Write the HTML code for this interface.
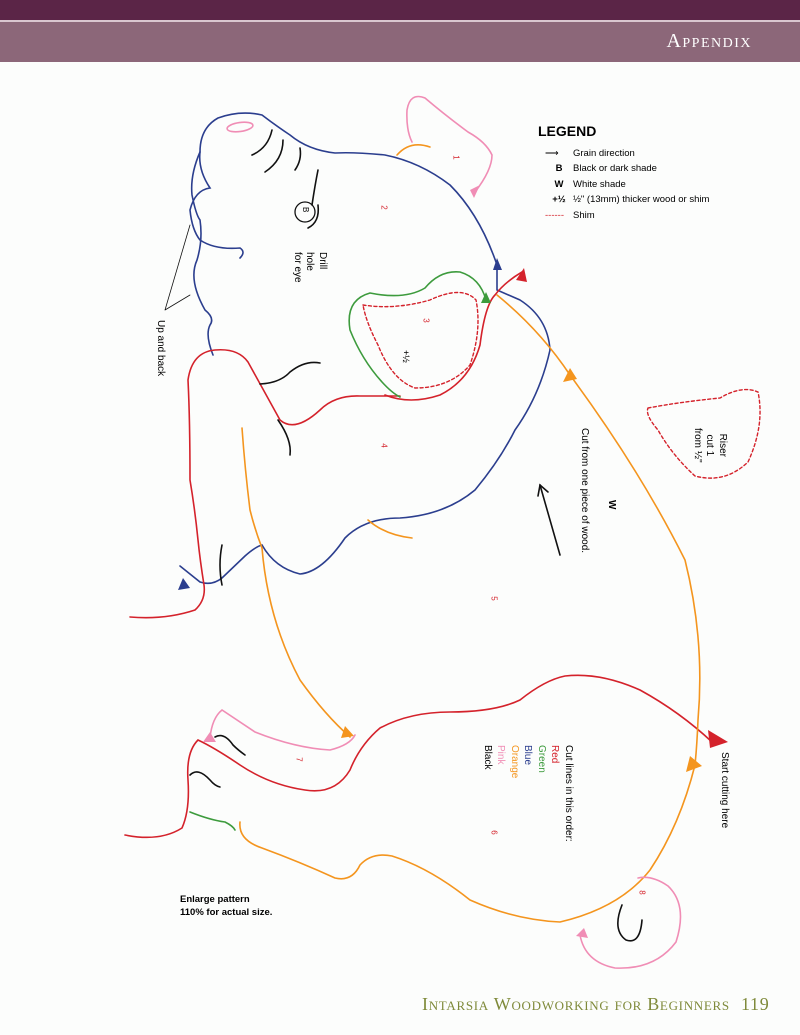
<!DOCTYPE html>
<html><head><meta charset="utf-8"><style>
body{margin:0;background:#fcfdfc;}
#w{position:relative;width:800px;height:1035px;overflow:hidden;background:#fcfdfc;font-family:"Liberation Sans",sans-serif;}
.t{position:absolute;white-space:nowrap;}
</style></head><body><div id="w">
<div style="position:absolute;left:0;top:0;width:800px;height:20px;background:#5b2547"></div>
<div style="position:absolute;left:0;top:20px;width:800px;height:2px;background:#d9c6cf"></div>
<div style="position:absolute;left:0;top:22px;width:800px;height:40px;background:#8c6779"></div>
<div class="t" style="right:48px;top:30px;color:#fff;font-family:'Liberation Serif',serif;font-size:20px;font-variant:small-caps;letter-spacing:1.5px">Appendix</div>
<div class="t" style="left:422px;top:994px;color:#7f8a3a;font-family:'Liberation Serif',serif;font-size:18px;font-variant:small-caps;letter-spacing:0.7px">Intarsia Woodworking for Beginners <span style="margin-left:6px">119</span></div>

<svg width="800" height="1035" style="position:absolute;left:0;top:0" fill="none" stroke-width="1.6" stroke-linecap="round">
<g stroke="#2b3e8e">
<path d="M180,566 L200,582 Q212,586 222,578 L245,556 Q255,547 262,545 Q275,568 300,574 Q322,572 345,538 Q365,518 400,518 Q445,515 475,490 Q500,460 515,430 Q540,395 550,350 Q548,318 520,300 L497,290 L497,265 Q480,215 450,185 Q420,162 385,155 Q355,152 335,153 Q308,150 290,135 Q275,125 262,115 Q240,110 218,118 Q200,128 200,152 Q198,170 210,188 Q195,190 190,210 Q192,230 200,240 Q215,250 240,248 Q246,252 240,258"/>
<path d="M200,152 Q190,175 192,195 Q196,215 200,220 Q203,240 197,260 Q188,280 205,310 Q215,318 210,325 Q205,335 213,355"/>
</g>
<polygon points="497,258 493,270 502,270" fill="#2b3e8e"/>
<polygon points="183,578 178,590 190,588" fill="#2b3e8e"/>
<g stroke="#d4222b">
<path d="M130,617 Q165,620 195,610 Q206,600 204,585 Q200,560 198,540 Q195,510 190,480 Q190,420 188,380 Q192,352 215,350 Q238,348 248,362 L280,420 Q295,433 320,410 Q335,395 360,396 L400,396"/>
<path d="M385,395 Q410,405 440,395 Q470,380 480,345 Q485,305 495,295 Q505,282 522,272"/>
<path d="M125,835 Q160,842 182,828 Q190,810 188,780 Q186,752 198,740 Q215,748 240,765 Q270,785 305,790 Q335,795 350,770 Q360,745 380,728 Q410,712 450,712 Q495,712 520,700 Q545,680 565,676 Q600,672 640,690 Q680,712 712,742"/>
<path d="M363,305 Q395,310 430,300 Q462,285 476,300 Q482,330 470,365 Q450,388 415,388 Q392,380 378,345 Q366,322 363,305 Z" stroke-dasharray="3,2.5" stroke-width="1.4"/>
<path d="M648,408 Q680,402 720,398 Q742,385 758,392 Q765,425 748,462 Q725,484 695,476 Q672,455 658,430 Q645,415 648,408 Z" stroke-dasharray="3,2.5" stroke-width="1.4"/>
</g>
<polygon points="524,268 516,280 527,282" fill="#d4222b"/>
<polygon points="708,730 728,742 710,748" fill="#d4222b"/>
<g stroke="#3d9b3d">
<path d="M486,300 Q480,278 460,272 Q440,270 425,288 Q405,300 370,293 Q345,300 350,330 Q362,360 382,382 Q392,393 400,397"/>
<path d="M190,812 Q210,820 225,822 Q233,826 235,830"/>
</g>
<polygon points="486,292 481,303 491,303" fill="#3d9b3d"/>
<g stroke="#f4951e">
<path d="M497,295 Q540,330 570,375 Q640,470 685,560 Q705,640 698,720 Q697,745 695,765"/>
<path d="M240,822 Q238,840 262,848 Q300,862 335,878 Q352,882 360,865 Q372,852 392,856 Q430,868 470,900 Q515,920 560,922 Q620,908 650,870 Q680,825 695,765"/>
<path d="M262,548 Q268,620 300,680 Q325,715 350,737"/>
<path d="M242,428 Q245,470 250,510 Q255,530 262,548"/>
<path d="M368,520 Q385,535 412,538"/>
<path d="M397,155 Q410,140 430,147"/>
</g>
<polygon points="570,368 563,382 577,379" fill="#f4951e"/>
<polygon points="690,756 686,772 702,766" fill="#f4951e"/>
<polygon points="345,726 341,738 354,736" fill="#f4951e"/>
<g stroke="#f08db5">
<path d="M475,192 Q492,170 492,155 Q486,142 468,132 Q445,115 425,98 Q410,92 407,110 Q406,130 412,142"/>
<path d="M210,738 Q212,718 222,710 Q240,722 255,732 Q295,748 330,750 Q350,745 355,735"/>
<path d="M580,935 Q585,962 615,968 Q655,970 676,942 Q688,905 668,886 Q652,875 638,878"/>
<ellipse cx="240" cy="127" rx="13" ry="4.5" transform="rotate(-8 240 127)"/>
</g>
<polygon points="480,185 470,190 474,198" fill="#f08db5"/>
<polygon points="210,732 203,742 216,742" fill="#f08db5"/>
<polygon points="584,928 576,936 588,938" fill="#f08db5"/>
<g stroke="#111">
<path d="M252,155 Q268,148 272,130"/>
<path d="M265,172 Q283,160 283,140"/>
<path d="M295,170 Q302,160 300,148"/>
<path d="M318,170 Q315,185 312,205"/>
<circle cx="305" cy="212" r="10" stroke-width="1.3"/>
<path d="M308,228 Q320,222 318,205"/>
<path d="M260,384 Q280,383 290,372 Q305,360 320,363"/>
<path d="M278,420 Q292,440 290,455"/>
<path d="M222,545 Q218,565 222,585"/>
<path d="M215,737 Q224,732 233,745 Q238,750 245,755"/>
<path d="M190,775 Q198,767 210,780 Q215,786 220,787"/>
<path d="M622,905 Q612,930 626,940 Q640,945 642,920"/>
<path d="M560,555 L540,485"/>
<path d="M538,496 L540,485 L548,492"/>
<path d="M190,225 L165,310 M190,295 L165,310" stroke-width="0.8"/>
</g>
</svg>

<div class="t" style="left:538px;top:123px;font-weight:bold;font-size:14px">LEGEND</div>
<div class="t" style="left:545px;top:146px;font-size:9.5px;line-height:15.4px">
<div><span style="display:inline-block;width:28px">⟶</span>Grain direction</div>
<div><b style="display:inline-block;width:28px;text-align:center">B</b>Black or dark shade</div>
<div><b style="display:inline-block;width:28px;text-align:center">W</b>White shade</div>
<div><b style="display:inline-block;width:28px;text-align:center">+½</b>½" (13mm) thicker wood or shim</div>
<div><span style="display:inline-block;width:28px;color:#d4222b">------</span>Shim</div>
</div>

<div class="t" style="left:180px;top:893px;font-weight:bold;font-size:9.5px;line-height:13px">Enlarge pattern<br>110% for actual size.</div>

<div style="position:absolute;left:0;top:0;width:800px;height:1035px;font-size:10px">
<div class="t" style="left:730px;top:752px;transform-origin:0 0;transform:rotate(90deg)">Start cutting here</div>
<div class="t" style="left:575px;top:745px;transform-origin:0 0;transform:rotate(90deg);line-height:13.5px">Cut lines in this order:<br><span style="color:#d4222b">Red</span><br><span style="color:#3d9b3d">Green</span><br><span style="color:#2b3e8e">Blue</span><br><span style="color:#f4951e">Orange</span><br><span style="color:#f08db5">Pink</span><br>Black</div>
<div class="t" style="left:590px;top:428px;transform-origin:0 0;transform:rotate(90deg)">Cut from one piece of wood.</div>
<div class="t" style="left:617px;top:500px;transform-origin:0 0;transform:rotate(90deg);font-weight:bold">W</div>
<div class="t" style="left:728px;top:428px;transform-origin:0 0;transform:rotate(90deg);line-height:12.5px;text-align:center">Riser<br>cut 1<br>from ½"</div>
<div class="t" style="left:328px;top:252px;transform-origin:0 0;transform:rotate(90deg);line-height:12.5px">Drill<br>hole<br>for eye</div>
<div class="t" style="left:166px;top:320px;transform-origin:0 0;transform:rotate(90deg)">Up and back</div>
<div class="t" style="left:411px;top:350px;transform-origin:0 0;transform:rotate(90deg);font-size:9px">+½</div>
<div class="t" style="left:310px;top:207px;transform-origin:0 0;transform:rotate(90deg);font-size:8px">B</div>
<div style="color:#d4222b;font-size:8px">
<div class="t" style="left:454px;top:153px;transform:rotate(90deg)">1</div>
<div class="t" style="left:382px;top:203px;transform:rotate(90deg)">2</div>
<div class="t" style="left:424px;top:316px;transform:rotate(90deg)">3</div>
<div class="t" style="left:382px;top:441px;transform:rotate(90deg)">4</div>
<div class="t" style="left:492px;top:594px;transform:rotate(90deg)">5</div>
<div class="t" style="left:492px;top:828px;transform:rotate(90deg)">6</div>
<div class="t" style="left:297px;top:755px;transform:rotate(90deg)">7</div>
<div class="t" style="left:640px;top:888px;transform:rotate(90deg)">8</div>
</div>
</div>
</div></body></html>
